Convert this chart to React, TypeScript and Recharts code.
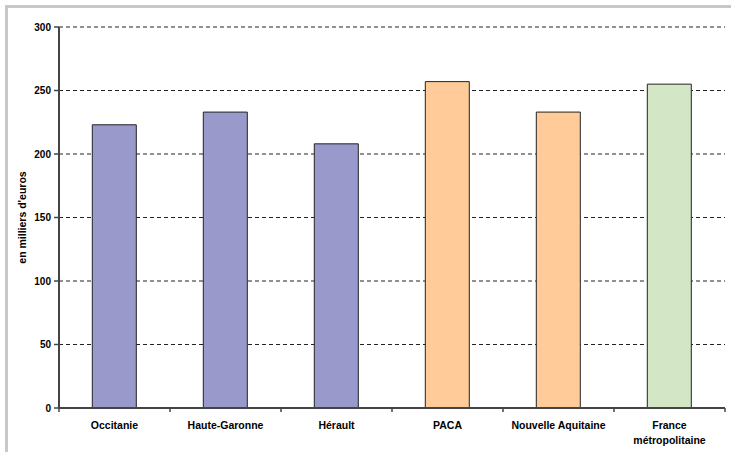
import React from "react";
import { BarChart, Bar, XAxis, YAxis, CartesianGrid, Cell } from "recharts";

const categories = ["Occitanie", "Haute-Garonne", "Hérault", "PACA", "Nouvelle Aquitaine", "France\nmétropolitaine"];
const values = [223, 233, 208, 257, 233, 255];
const colors = ["#9999CC", "#9999CC", "#9999CC", "#FFCC99", "#FFCC99", "#D3E7C6"];
const yTicks = [0, 50, 100, 150, 200, 250, 300];
const yLabel = "en milliers d'euros";

const data = categories.map((c, i) => ({ name: c, value: values[i] }));

const FONT = "'Liberation Sans', Arial, sans-serif";

const XTick = (props: any) => {
  const { x, y, payload, width, visibleTicksCount, index } = props;
  const lines = String(payload.value).split("\n");
  const half = width / (visibleTicksCount || 6) / 2;
  const last = index === (visibleTicksCount || 6) - 1;
  return (
    <g transform={`translate(${x},${y})`}>
      <line x1={-half} y1={0} x2={-half} y2={4} stroke="#444" strokeWidth={1.5} />
      {last && <line x1={half} y1={0} x2={half} y2={4} stroke="#444" strokeWidth={1.5} />}
      <text textAnchor="middle" fontFamily={FONT} fontWeight="bold" fontSize={10.5} fill="#000">
        {lines.map((l, i) => (
          <tspan key={i} x={0} dy={i === 0 ? 21 : 15}>
            {l}
          </tspan>
        ))}
      </text>
    </g>
  );
};

export default function App() {
  return (
    <div style={{ position: "absolute", left: 0, top: 0, width: 731, height: 452, background: "#fff" }}>
      <div
        style={{
          position: "absolute",
          left: 5,
          top: 5,
          width: 740,
          height: 460,
          borderTop: "3px solid #c8c8c8",
          borderLeft: "3px solid #c8c8c8",
        }}
      />
      <div style={{ position: "absolute", left: 0, top: 0 }}>
        <BarChart
          width={731}
          height={452}
          data={data}
          margin={{ top: 27, right: 6, bottom: 0, left: 0 }}
          barCategoryGap="30%"
        >
          <CartesianGrid vertical={false} stroke="#222" strokeDasharray="4 3" />
          <XAxis
            dataKey="name"
            tick={<XTick />}
            tickLine={false}
            tickSize={0}
            tickMargin={0}
            axisLine={{ stroke: "#444", strokeWidth: 2 }}
            interval={0}
            height={44}
          />
          <YAxis
            domain={[0, 300]}
            ticks={yTicks}
            width={59}
            tickSize={5}
            tickMargin={3}
            axisLine={{ stroke: "#444", strokeWidth: 2 }}
            tickLine={{ stroke: "#444", strokeWidth: 1.5 }}
            tick={{ fontFamily: FONT, fontWeight: "bold", fontSize: 10, fill: "#000" }}
            label={{
              value: yLabel,
              angle: -90,
              position: "insideLeft",
              offset: 22,
              style: { fontFamily: FONT, fontWeight: "bold", fontSize: 10.5, fill: "#000", textAnchor: "middle" },
            }}
          />
          <YAxis
            yAxisId="r"
            orientation="right"
            width={0}
            domain={[0, 300]}
            tick={false}
            tickLine={false}
            axisLine={{ stroke: "#999", strokeWidth: 1 }}
          />
          <Bar dataKey="value" stroke="#222" strokeWidth={1} isAnimationActive={false}>
            {data.map((d, i) => (
              <Cell key={i} fill={colors[i]} />
            ))}
          </Bar>
        </BarChart>
      </div>
    </div>
  );
}
